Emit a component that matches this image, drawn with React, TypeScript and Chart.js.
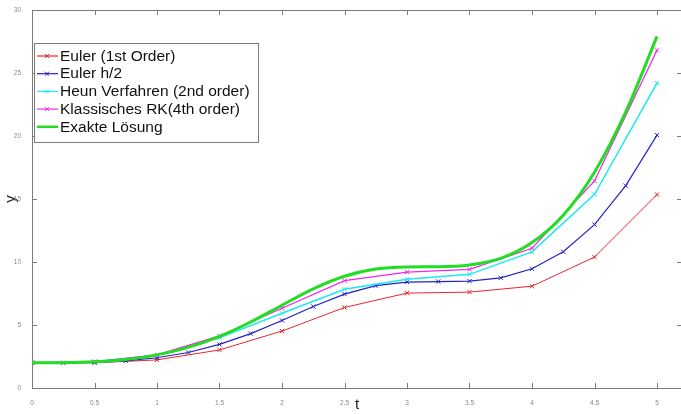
import React, { useEffect, useRef } from "react";
import { Chart, registerables } from "chart.js";

Chart.register(...registerables);

// ---- data ----
const tCoarse = [0, 0.5, 1, 1.5, 2, 2.5, 3, 3.5, 4, 4.5, 5];
const tFine = [0, 0.25, 0.5, 0.75, 1, 1.25, 1.5, 1.75, 2, 2.25, 2.5, 2.75, 3, 3.25, 3.5, 3.75, 4, 4.25, 4.5, 4.75, 5];

const eulerVals = [2, 2, 2.23, 3.02, 4.52, 6.39, 7.53, 7.61, 8.08, 10.39, 15.35];
const eulerHalfVals = [2, 2, 2.03, 2.15, 2.4, 2.82, 3.46, 4.32, 5.36, 6.47, 7.45, 8.12, 8.41, 8.45, 8.48, 8.74, 9.46, 10.81, 12.97, 16.06, 20.07];
const heunVals = [2, 2.11, 2.6, 3.98, 5.93, 7.83, 8.63, 9.02, 10.8, 15.37, 24.2];
const rkVals = [2, 2.08, 2.62, 4.13, 6.33, 8.52, 9.2, 9.42, 11.09, 16.43, 26.8];
const exactVals = [2, 2.01, 2.08, 2.27, 2.63, 3.22, 4.09, 5.24, 6.57, 7.87, 8.87, 9.44, 9.61, 9.63, 9.77, 10.29, 11.54, 13.71, 17.12, 21.91, 27.91];

const seriesLabels = ["Euler (1st Order)", "Euler h/2", "Heun Verfahren (2nd order)", "Klassisches RK(4th order)", "Exakte Lösung"];
const seriesColors = ["#e8262b", "#2222c8", "#1ee8f0", "#f028e8", "#22dd22"];

const xTickValues = [0, 0.5, 1, 1.5, 2, 2.5, 3, 3.5, 4, 4.5, 5];
const yTickValues = [0, 5, 10, 15, 20, 25, 30];

const toPts = (xs: number[], ys: number[]) => xs.map((x, i) => ({ x, y: ys[i] }));

const framePlugin = {
  id: "frame",
  beforeDatasetsDraw(chart: any) {
    const { ctx, chartArea: a, scales } = chart;
    ctx.save();
    ctx.strokeStyle = "#7a7a7a";
    ctx.lineWidth = 1;
    ctx.strokeRect(Math.round(a.left) + 0.5, Math.round(a.top) + 0.5, a.right - a.left, a.bottom - a.top);
    ctx.beginPath();
    for (const v of xTickValues) {
      const px = Math.round(scales.x.getPixelForValue(v)) + 0.5;
      ctx.moveTo(px, a.bottom);
      ctx.lineTo(px, a.bottom - 5);
      ctx.moveTo(px, a.top);
      ctx.lineTo(px, a.top + 5);
    }
    for (const v of yTickValues) {
      const py = Math.round(scales.y.getPixelForValue(v)) + 0.5;
      ctx.moveTo(a.left, py);
      ctx.lineTo(a.left + 5, py);
      ctx.moveTo(a.right, py);
      ctx.lineTo(a.right - 5, py);
    }
    ctx.stroke();
    ctx.restore();
  },
};

const legendPlugin = {
  id: "boxLegend",
  afterDatasetsDraw(chart: any) {
    const { ctx } = chart;
    const x0 = 34.5, y0 = 43.5, w = 224, h = 99;
    ctx.save();
    ctx.fillStyle = "#ffffff";
    ctx.fillRect(x0, y0, w, h);
    ctx.strokeStyle = "#7a7a7a";
    ctx.lineWidth = 1;
    ctx.strokeRect(x0, y0, w, h);
    ctx.font = "15.5px 'Liberation Sans', Arial, sans-serif";
    ctx.textBaseline = "middle";
    seriesLabels.forEach((lbl, i) => {
      const cy = 56 + i * 17.7;
      const col = seriesColors[i];
      ctx.strokeStyle = col;
      ctx.lineWidth = i === 4 ? 2.5 : 1.2;
      ctx.beginPath();
      ctx.moveTo(37, cy);
      ctx.lineTo(58, cy);
      ctx.stroke();
      if (i < 4) {
        ctx.lineWidth = 1;
        ctx.beginPath();
        ctx.moveTo(45, cy - 2);
        ctx.lineTo(49, cy + 2);
        ctx.moveTo(49, cy - 2);
        ctx.lineTo(45, cy + 2);
        ctx.stroke();
      }
      ctx.fillStyle = "#111";
      ctx.fillText(lbl, 60, cy + 0.5);
    });
    ctx.restore();
  },
};

export default function App() {
  const ref = useRef<HTMLCanvasElement>(null);
  useEffect(() => {
    if (!ref.current) return;
    const mk = (i: number, data: any[], extra: any = {}) => ({
      label: seriesLabels[i],
      data,
      borderColor: seriesColors[i],
      backgroundColor: seriesColors[i],
      borderWidth: 1,
      pointStyle: "crossRot",
      pointRadius: 3,
      pointBorderWidth: 1,
      tension: 0,
      ...extra,
    });
    const tickFont = { size: 6.5, family: "'Liberation Sans', Arial" };
    const chart = new Chart(ref.current, {
      type: "line",
      data: {
        datasets: [
          mk(0, toPts(tCoarse, eulerVals), { order: 5 }),
          mk(1, toPts(tFine, eulerHalfVals), { order: 4, borderWidth: 1.2 }),
          mk(2, toPts(tCoarse, heunVals), { order: 3, borderWidth: 1.5 }),
          mk(3, toPts(tCoarse, rkVals), { order: 2, borderWidth: 1.3 }),
          mk(4, toPts(tFine, exactVals), { order: 1, borderWidth: 3, pointRadius: 0, cubicInterpolationMode: "monotone" }),
        ],
      },
      options: {
        responsive: false,
        animation: false,
        layout: { padding: { top: 10, right: 18, left: 0, bottom: 0 } },
        plugins: { legend: { display: false }, tooltip: { enabled: false } },
        scales: {
          x: {
            type: "linear",
            min: 0,
            max: 5.2,
            afterBuildTicks: (s: any) => { s.ticks = xTickValues.map((v) => ({ value: v })); },
            afterFit: (s: any) => { s.height = 26; },
            grid: { display: false },
            border: { display: false },
            ticks: { font: tickFont, color: "#888", padding: 3, maxRotation: 0, callback: (v: any) => String(v) },
            title: { display: true, text: "t", font: { size: 15, family: "'Liberation Sans', Arial" }, color: "#222", padding: { top: 0, bottom: 0 } },
          },
          y: {
            type: "linear",
            min: 0,
            max: 30,
            afterBuildTicks: (s: any) => { s.ticks = yTickValues.map((v) => ({ value: v })); },
            afterFit: (s: any) => { s.width = 32; },
            grid: { display: false },
            border: { display: false },
            ticks: { font: tickFont, color: "#888", padding: 3, callback: (v: any) => String(v) },
            title: { display: true, text: "y", font: { size: 15, family: "'Liberation Sans', Arial" }, color: "#222", padding: { top: 2, bottom: 0 } },
          },
        },
      },
      plugins: [framePlugin, legendPlugin],
    });
    return () => chart.destroy();
  }, []);
  return (
    <div style={{ position: "fixed", left: 0, top: 0, width: 681, height: 414, overflow: "hidden", background: "#fff" }}>
      <canvas ref={ref} width={700} height={414} style={{ display: "block" }} />
    </div>
  );
}
